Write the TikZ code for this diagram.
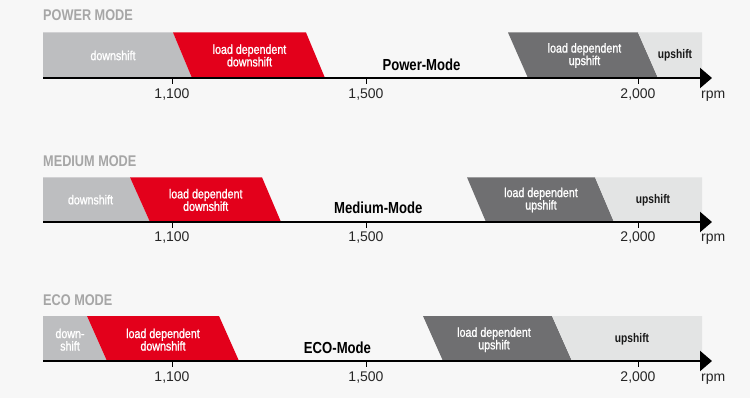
\documentclass[tikz,border=0pt]{standalone}
\usepackage{fontspec}
\setmainfont{Liberation Sans}
\newfontfamily\condfont[FakeStretch=0.82]{Liberation Sans}
\newfontfamily\bandfont[FakeStretch=0.82,FakeBold=1.2]{Liberation Sans}
\usetikzlibrary{arrows.meta}
\newlength{\du}
\setlength{\du}{1pt}
\definecolor{pagecolor}{rgb}{0.969, 0.969, 0.969}
\definecolor{headcolor}{rgb}{0.650, 0.650, 0.650}
\definecolor{downcolor}{rgb}{0.741, 0.745, 0.753}
\definecolor{loadcolor}{rgb}{0.890, 0.000, 0.106}
\definecolor{ldupcolor}{rgb}{0.435, 0.435, 0.443}
\definecolor{upcolor}{rgb}{0.890, 0.894, 0.894}

\begin{document}
\begin{tikzpicture}[
  modehead/.style={anchor=base west, inner sep=0pt, text=headcolor, font=\condfont\bfseries\fontsize{15.5}{15}\selectfont},
  bandtext/.style={inner sep=0pt, align=center, text=white, font=\bandfont\fontsize{13}{12.5}\selectfont},
  uptext/.style={inner sep=0pt, text=black!90, font=\condfont\bfseries\fontsize{12.5}{12}\selectfont},
  modename/.style={anchor=base, inner sep=0pt, font=\condfont\bfseries\fontsize{16}{16}\selectfont},
  rpmtext/.style={anchor=base, inner sep=0pt, text=black!85, font=\fontsize{14}{14}\selectfont},
  rpmaxis/.style={line width=2.2\du, -{Triangle[length=12pt,width=20pt]}},
  rpmtick/.style={line width=1\du}
]
\pgftransformxscale{1.000000}
\pgftransformyscale{-1.000000}
% page
\fill[pagecolor] (0\du,0\du) rectangle (750\du,398\du);
\useasboundingbox (0\du,0\du) rectangle (750\du,398\du);

% power mode
\node[modehead] (powerhead) at (43\du,20.7\du) {POWER MODE};
\fill[downcolor] (43\du,32.5\du)--(173\du,32.5\du)--(192\du,78\du)--(43\du,78\du)--cycle;
\fill[loadcolor] (173\du,32.5\du)--(306\du,32.5\du)--(325\du,78\du)--(192\du,78\du)--cycle;
\fill[ldupcolor] (508\du,32.5\du)--(638\du,32.5\du)--(658\du,78\du)--(528\du,78\du)--cycle;
\fill[upcolor] (638\du,32.5\du)--(702\du,32.5\du)--(702\du,78\du)--(658\du,78\du)--cycle;
\node[bandtext] (powerdown) at (113\du,55.5\du) {downshift};
\node[bandtext] (powerldd) at (249.5\du,55.5\du) {load dependent\\downshift};
\node[bandtext] (powerldu) at (584.5\du,55.5\du) {load dependent\\upshift};
\node[uptext] (powerup) at (675\du,55.5\du) {upshift};
\node[modename] (powername) at (421.5\du,71\du) {Power-Mode};
\coordinate (powerstart) at (43\du,78\du);
\coordinate (powerend) at (712\du,78\du);
\draw[rpmaxis] (powerstart) -- (powerend);
\draw[rpmtick] (172\du,78\du) -- (172\du,84\du);
\draw[rpmtick] (366\du,78\du) -- (366\du,84\du);
\draw[rpmtick] (638\du,78\du) -- (638\du,84\du);
\node[rpmtext] (power1100) at (172\du,99\du) {1,100};
\node[rpmtext] (power1500) at (366\du,99\du) {1,500};
\node[rpmtext] (power2000) at (638\du,99\du) {2,000};
\node[rpmtext, anchor=base west] (powerrpm) at (701\du,99\du) {rpm};

% medium mode
\node[modehead] (mediumhead) at (43\du,166.7\du) {MEDIUM MODE};
\fill[downcolor] (43\du,177.3\du)--(130\du,177.3\du)--(150\du,222\du)--(43\du,222\du)--cycle;
\fill[loadcolor] (130\du,177.3\du)--(262\du,177.3\du)--(281\du,222\du)--(150\du,222\du)--cycle;
\fill[ldupcolor] (467\du,177.3\du)--(595\du,177.3\du)--(614\du,222\du)--(486\du,222\du)--cycle;
\fill[upcolor] (595\du,177.3\du)--(702\du,177.3\du)--(702\du,222\du)--(614\du,222\du)--cycle;
\node[bandtext] (mediumdown) at (90.5\du,199.7\du) {downshift};
\node[bandtext] (mediumldd) at (205.7\du,200\du) {load dependent\\downshift};
\node[bandtext] (mediumldu) at (541\du,200\du) {load dependent\\upshift};
\node[uptext] (mediumup) at (653\du,200\du) {upshift};
\node[modename] (mediumname) at (378.3\du,214\du) {Medium-Mode};
\coordinate (mediumstart) at (43\du,222\du);
\coordinate (mediumend) at (712\du,222\du);
\draw[rpmaxis] (mediumstart) -- (mediumend);
\draw[rpmtick] (172\du,222\du) -- (172\du,228\du);
\draw[rpmtick] (366\du,222\du) -- (366\du,228\du);
\draw[rpmtick] (638\du,222\du) -- (638\du,228\du);
\node[rpmtext] (medium1100) at (172\du,242\du) {1,100};
\node[rpmtext] (medium1500) at (366\du,242\du) {1,500};
\node[rpmtext] (medium2000) at (638\du,242\du) {2,000};
\node[rpmtext, anchor=base west] (mediumrpm) at (701\du,242\du) {rpm};

% eco mode
\node[modehead] (ecohead) at (43\du,305.7\du) {ECO MODE};
\fill[downcolor] (43\du,316\du)--(87\du,316\du)--(107\du,361\du)--(43\du,361\du)--cycle;
\fill[loadcolor] (87\du,316\du)--(219\du,316\du)--(239\du,361\du)--(107\du,361\du)--cycle;
\fill[ldupcolor] (423\du,316\du)--(552\du,316\du)--(572\du,361\du)--(443\du,361\du)--cycle;
\fill[upcolor] (552\du,316\du)--(702\du,316\du)--(702\du,361\du)--(572\du,361\du)--cycle;
\node[bandtext] (ecodown) at (70\du,339.7\du) {down-\\shift};
\node[bandtext] (ecoldd) at (163\du,339.7\du) {load dependent\\downshift};
\node[bandtext] (ecoldu) at (494\du,339.7\du) {load dependent\\upshift};
\node[uptext] (ecoup) at (632\du,339\du) {upshift};
\node[modename] (econame) at (337.5\du,353.3\du) {ECO-Mode};
\coordinate (ecostart) at (43\du,361\du);
\coordinate (ecoend) at (712\du,361\du);
\draw[rpmaxis] (ecostart) -- (ecoend);
\draw[rpmtick] (172\du,361\du) -- (172\du,367\du);
\draw[rpmtick] (366\du,361\du) -- (366\du,367\du);
\draw[rpmtick] (638\du,361\du) -- (638\du,367\du);
\node[rpmtext] (eco1100) at (172\du,381\du) {1,100};
\node[rpmtext] (eco1500) at (366\du,381\du) {1,500};
\node[rpmtext] (eco2000) at (638\du,381\du) {2,000};
\node[rpmtext, anchor=base west] (ecorpm) at (701\du,381\du) {rpm};
\end{tikzpicture}
\end{document}
